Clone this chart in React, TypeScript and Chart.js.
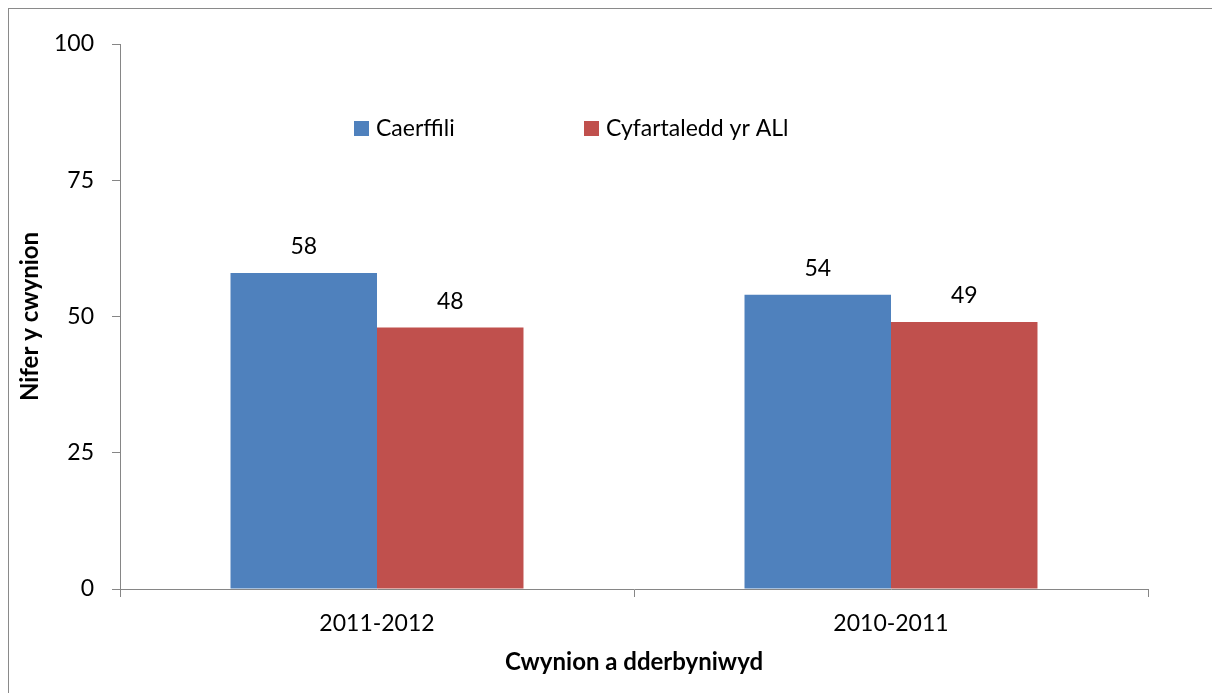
import React, { useEffect, useRef } from "react";
import { Chart, registerables } from "chart.js";

Chart.register(...registerables);

const categories = ["2011-2012", "2010-2011"];
const seriesNames = ["Caerffili", "Cyfartaledd yr ALl"];
const caerffili = [58, 54];
const cyfartaledd = [48, 49];
const yTicks = [0, 25, 50, 75, 100];
const colors = ["#4F81BD", "#C0504D"];
const yTitle = "Nifer y cwynion";
const xTitle = "Cwynion a dderbyniwyd";

const FONT = "Lato, 'Liberation Sans', sans-serif";
const AXIS = "#868686";

const framePlugin = {
  id: "frame",
  beforeDraw(chart: any) {
    const ctx = chart.ctx;
    ctx.save();
    ctx.fillStyle = "#ffffff";
    ctx.fillRect(0, 0, chart.width, chart.height);
    ctx.strokeStyle = "#8a8a8a";
    ctx.lineWidth = 1;
    ctx.strokeRect(8.5, 8.5, chart.width + 50, chart.height + 50);
    ctx.restore();
  },
};

const valueLabelPlugin = {
  id: "valueLabels",
  afterDatasetsDraw(chart: any) {
    const ctx = chart.ctx;
    ctx.save();
    ctx.font = `23px ${FONT}`;
    ctx.fillStyle = "#000000";
    ctx.textAlign = "center";
    ctx.textBaseline = "middle";
    chart.data.datasets.forEach((ds: any, di: number) => {
      const meta = chart.getDatasetMeta(di);
      meta.data.forEach((bar: any, i: number) => {
        ctx.fillText(String(ds.data[i]), bar.x, bar.y - 26);
      });
    });
    ctx.restore();
  },
};

const legendPlugin = {
  id: "innerLegend",
  afterDraw(chart: any) {
    const ctx = chart.ctx;
    const area = chart.chartArea;
    const offsets = [234, 464];
    const boxY = area.top + 77;
    ctx.save();
    ctx.font = `23px ${FONT}`;
    ctx.textAlign = "left";
    ctx.textBaseline = "middle";
    chart.data.datasets.forEach((ds: any, di: number) => {
      const x = area.left + offsets[di];
      ctx.fillStyle = ds.backgroundColor;
      ctx.fillRect(x, boxY, 15, 15);
      ctx.fillStyle = "#000000";
      ctx.fillText(ds.label, x + 22, boxY + 8);
    });
    ctx.restore();
  },
};

export default function App() {
  const canvasRef = useRef<HTMLCanvasElement | null>(null);

  useEffect(() => {
    if (!canvasRef.current) return;
    const chart = new Chart(canvasRef.current, {
      type: "bar",
      data: {
        labels: categories,
        datasets: [
          {
            label: seriesNames[0],
            data: caerffili,
            backgroundColor: colors[0],
            categoryPercentage: 0.57,
            barPercentage: 1,
          },
          {
            label: seriesNames[1],
            data: cyfartaledd,
            backgroundColor: colors[1],
            categoryPercentage: 0.57,
            barPercentage: 1,
          },
        ],
      },
      options: {
        animation: false,
        responsive: false,
        devicePixelRatio: 1,
        layout: { padding: { top: 44, right: 64, bottom: 0, left: 0 } },
        plugins: {
          legend: { display: false },
          tooltip: { enabled: false },
        },
        scales: {
          x: {
            grid: {
              display: true,
              drawOnChartArea: false,
              drawTicks: true,
              tickLength: 8,
              color: AXIS,
              offset: true,
            },
            border: { display: true, color: AXIS, width: 1 },
            ticks: {
              color: "#000000",
              font: { family: FONT, size: 23 },
              padding: 13,
            },
            title: {
              display: true,
              text: xTitle,
              color: "#000000",
              font: { family: FONT, size: 24, weight: "bold" },
              padding: { top: 0, bottom: 16 },
            },
            afterFit: (s: any) => {
              s.height = 104;
            },
          },
          y: {
            min: 0,
            max: 100,
            afterBuildTicks: (s: any) => {
              s.ticks = yTicks.map((v) => ({ value: v }));
            },
            grid: {
              display: true,
              drawOnChartArea: false,
              drawTicks: true,
              tickLength: 8,
              color: AXIS,
            },
            border: { display: true, color: AXIS, width: 1 },
            ticks: {
              color: "#000000",
              font: { family: FONT, size: 23 },
              padding: 18,
            },
            title: {
              display: true,
              text: yTitle,
              color: "#000000",
              font: { family: FONT, size: 24, weight: "bold" },
              padding: { top: 16, bottom: 0 },
            },
            afterFit: (s: any) => {
              s.width = 120;
            },
          },
        },
      },
      plugins: [framePlugin, valueLabelPlugin, legendPlugin],
    });
    return () => chart.destroy();
  }, []);

  return (
    <div
      style={{
        position: "fixed",
        left: 0,
        top: 0,
        width: 1212,
        height: 693,
        overflow: "hidden",
        background: "#ffffff",
      }}
    >
      <canvas ref={canvasRef} width={1212} height={693} style={{ display: "block" }} />
    </div>
  );
}
